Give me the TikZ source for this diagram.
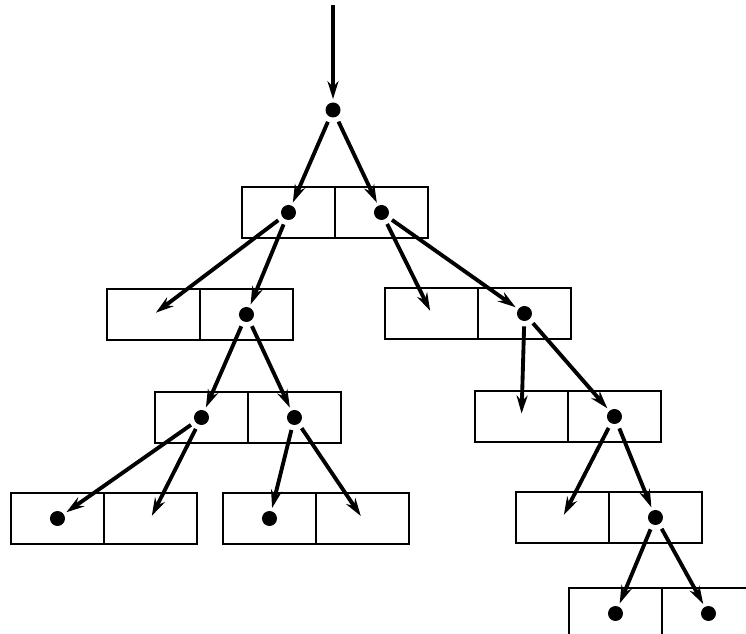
\documentclass[tikz,border=0pt]{standalone}
\usepackage{tikz}
\usetikzlibrary{arrows.meta, positioning}

\begin{document}
\begin{tikzpicture}[
    x=0.02cm, y=-0.02cm,
    cell/.style={rectangle, draw, line width=1.6pt, minimum width=1.86cm, minimum height=1.02cm, inner sep=0pt, outer sep=0pt, anchor=north west},
    dot/.style={circle, fill, minimum size=0.3cm, inner sep=0pt},
    arrow/.style={line width=2.2pt, -{Stealth[length=3.6mm,width=2.2mm]}, shorten <=0.1cm, shorten >=0.06cm}
]
\clip (0,0) rectangle (746,634);

% Cells (left half placed, right half attached)
\node[cell] (b1l) at (242,187) {};
\node[cell, right=0pt of b1l, anchor=west] (b1r) {};
\node[cell] (b2l) at (107,289) {};
\node[cell, right=0pt of b2l, anchor=west] (b2r) {};
\node[cell] (b3l) at (385,288) {};
\node[cell, right=0pt of b3l, anchor=west] (b3r) {};
\node[cell] (b4l) at (155,392) {};
\node[cell, right=0pt of b4l, anchor=west] (b4r) {};
\node[cell] (b5l) at (475,391) {};
\node[cell, right=0pt of b5l, anchor=west] (b5r) {};
\node[cell] (b6l) at (11,493) {};
\node[cell, right=0pt of b6l, anchor=west] (b6r) {};
\node[cell] (b7l) at (223,493) {};
\node[cell, right=0pt of b7l, anchor=west] (b7r) {};
\node[cell] (b8l) at (516,492) {};
\node[cell, right=0pt of b8l, anchor=west] (b8r) {};
\node[cell] (b9l) at (569,588) {};
\node[cell, right=0pt of b9l, anchor=west] (b9r) {};

% Pointers
\coordinate (entry) at (333,5);
\node[dot] (root) at (333,110) {};
\node[dot] (d1l) at (b1l.center) {};
\node[dot] (d1r) at (b1r.center) {};
\node[dot] (d2r) at (b2r.center) {};
\node[dot] (d3r) at (b3r.center) {};
\node[dot] (d4l) at (b4l.center) {};
\node[dot] (d4r) at (b4r.center) {};
\node[dot] (d5r) at (b5r.center) {};
\node[dot] (d6l) at (b6l.center) {};
\node[dot] (d7l) at (b7l.center) {};
\node[dot] (d8r) at (b8r.center) {};
\node[dot] (d9l) at (b9l.center) {};
\node[dot] (d9r) at (b9r.center) {};

% Arrows
\draw[arrow, shorten <=0pt] (entry) -- (root);
\draw[arrow] (root) -- (d1l);
\draw[arrow] (root) -- (d1r);
\draw[arrow] (d1l) -- (b2l.center);
\draw[arrow] (d1l) -- (d2r);
\draw[arrow] (d1r) -- (b3l.center);
\draw[arrow] (d1r) -- (d3r);
\draw[arrow] (d2r) -- (d4l);
\draw[arrow] (d2r) -- (d4r);
\draw[arrow] (d4l) -- (d6l);
\draw[arrow] (d4l) -- (b6r.center);
\draw[arrow] (d4r) -- (d7l);
\draw[arrow] (d4r) -- (b7r.center);
\draw[arrow] (d3r) -- (b5l.center);
\draw[arrow] (d3r) -- (d5r);
\draw[arrow] (d5r) -- (b8l.center);
\draw[arrow] (d5r) -- (d8r);
\draw[arrow] (d8r) -- (d9l);
\draw[arrow] (d8r) -- (d9r);

\end{tikzpicture}
\end{document}
